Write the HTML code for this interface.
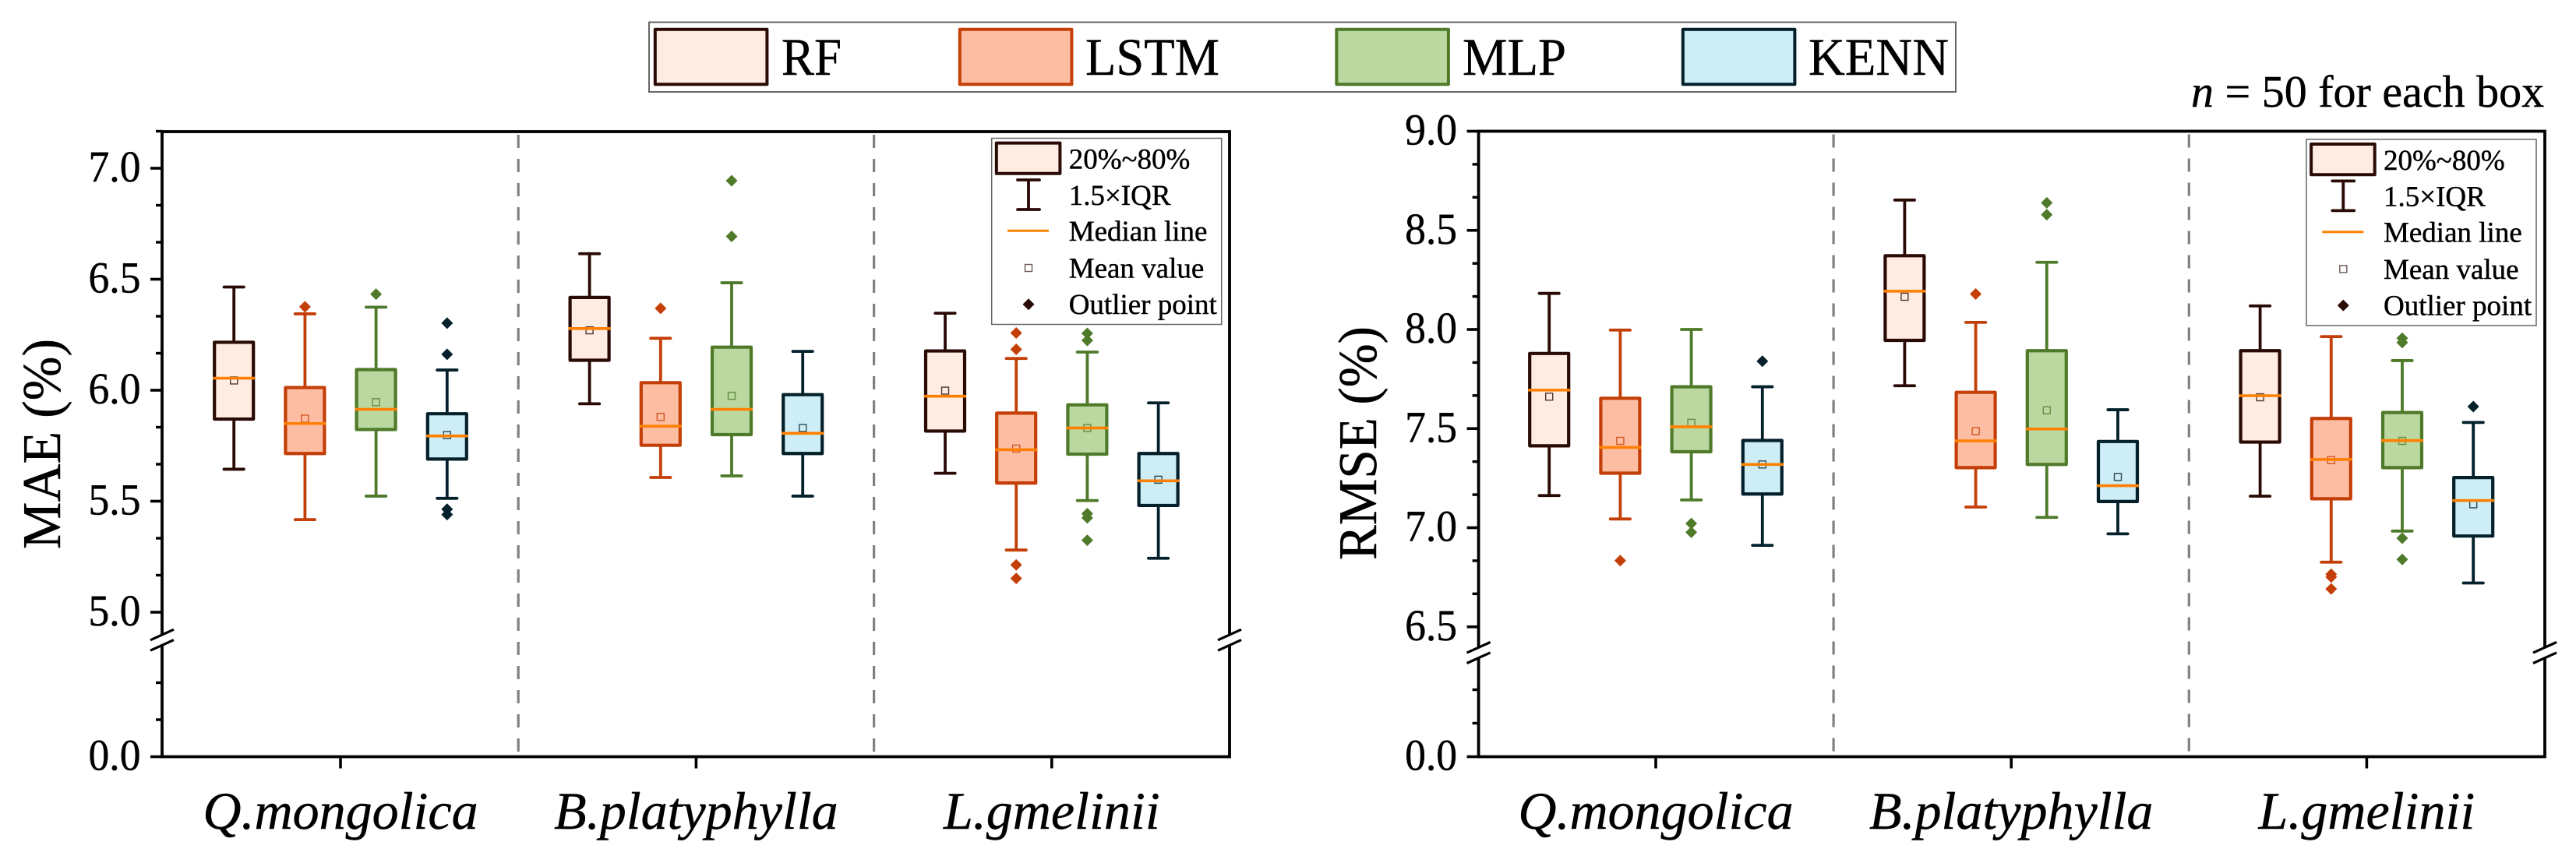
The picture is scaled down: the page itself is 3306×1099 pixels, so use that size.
<!DOCTYPE html>
<html lang="en">
<head>
<meta charset="utf-8">
<title>MAE and RMSE box plots</title>
<style>
html,body{margin:0;padding:0;background:#fff;}
svg{display:block;}
text{font-family:"Liberation Serif",serif;fill:#000;stroke:#000;stroke-width:0.45;text-rendering:geometricPrecision;}
</style>
</head>
<body>
<svg id="chart" xmlns="http://www.w3.org/2000/svg" width="3306" height="1099" viewBox="0 0 3306 1099">
  <rect width="3306" height="1099" fill="#fff"/>

  <g>
    <rect x="833" y="28.5" width="1677" height="89.5" fill="#fff" stroke="#555" stroke-width="1.8"/>
    <rect x="840.8" y="37.8" width="143.6" height="70.4" fill="#feece3" stroke="#2a0a05" stroke-width="4" stroke-linejoin="round"/>
    <text x="1003" y="96" font-size="68" textLength="77" lengthAdjust="spacingAndGlyphs">RF</text>
    <rect x="1231.8" y="37.8" width="143.6" height="70.4" fill="#fdbda2" stroke="#c43f08" stroke-width="4" stroke-linejoin="round"/>
    <text x="1393" y="96" font-size="68" textLength="172" lengthAdjust="spacingAndGlyphs">LSTM</text>
    <rect x="1715.3" y="37.8" width="143.6" height="70.4" fill="#bbd8a0" stroke="#4f7a2a" stroke-width="4" stroke-linejoin="round"/>
    <text x="1877" y="96" font-size="68" textLength="133" lengthAdjust="spacingAndGlyphs">MLP</text>
    <rect x="2159.8" y="37.8" width="143.6" height="70.4" fill="#cdeef6" stroke="#04202a" stroke-width="4" stroke-linejoin="round"/>
    <text x="2321" y="96" font-size="68" textLength="180" lengthAdjust="spacingAndGlyphs">KENN</text>
  </g>

  <text x="2812" y="137" font-size="58"><tspan font-style="italic">n</tspan> = 50 for each box</text>

  <text transform="translate(77,570) rotate(-90)" text-anchor="middle" font-size="70" textLength="270" lengthAdjust="spacingAndGlyphs">MAE (%)</text>
  <text transform="translate(1766,569) rotate(-90)" text-anchor="middle" font-size="70" textLength="300" lengthAdjust="spacingAndGlyphs">RMSE (%)</text>

  <g id="panel-mae"></g>
  <g id="panel-rmse"></g>

  <g>
    <rect x="1272.7" y="177.5" width="295" height="239" fill="#fff" stroke="#666" stroke-width="1.5"/>
    <rect x="1278.8" y="183.6" width="81.6" height="39.2" fill="#feece3" stroke="#2a0a05" stroke-width="4" stroke-linejoin="round"/>
    <text x="1371.7" y="216.7" font-size="37">20%~80%</text>
    <path d="M1306 231H1334M1320 231V269M1306 269H1334" fill="none" stroke="#2a0a05" stroke-width="3.8" stroke-linecap="round"/>
    <text x="1371.7" y="263" font-size="37">1.5×IQR</text>
    <line x1="1293" y1="296.3" x2="1346" y2="296.3" stroke="#ff8000" stroke-width="3"/>
    <text x="1371.7" y="309" font-size="37">Median line</text>
    <rect x="1315.5" y="339.5" width="9" height="9" fill="#fff" stroke="#6d5a55" stroke-width="1.4"/>
    <text x="1371.7" y="356.7" font-size="37">Mean value</text>
    <path d="M1320 383.2L1327.5 390.7L1320 398.2L1312.5 390.7Z" fill="#2a0a05"/>
    <text x="1371.7" y="403" font-size="37">Outlier point</text>
  </g>

  <g transform="translate(1687.3,1.4)">
    <rect x="1272.7" y="177.5" width="295" height="239" fill="#fff" stroke="#666" stroke-width="1.5"/>
    <rect x="1278.8" y="183.6" width="81.6" height="39.2" fill="#feece3" stroke="#2a0a05" stroke-width="4" stroke-linejoin="round"/>
    <text x="1371.7" y="216.7" font-size="37">20%~80%</text>
    <path d="M1306 231H1334M1320 231V269M1306 269H1334" fill="none" stroke="#2a0a05" stroke-width="3.8" stroke-linecap="round"/>
    <text x="1371.7" y="263" font-size="37">1.5×IQR</text>
    <line x1="1293" y1="296.3" x2="1346" y2="296.3" stroke="#ff8000" stroke-width="3"/>
    <text x="1371.7" y="309" font-size="37">Median line</text>
    <rect x="1315.5" y="339.5" width="9" height="9" fill="#fff" stroke="#6d5a55" stroke-width="1.4"/>
    <text x="1371.7" y="356.7" font-size="37">Mean value</text>
    <path d="M1320 383.2L1327.5 390.7L1320 398.2L1312.5 390.7Z" fill="#2a0a05"/>
    <text x="1371.7" y="403" font-size="37">Outlier point</text>
  </g>
</svg>

<script>
const species = ['Q.mongolica', 'B.platyphylla', 'L.gmelinii'];
const models = ['RF', 'LSTM', 'MLP', 'KENN'];
const strokeColors = ['#2a0a05', '#c43f08', '#4f7a2a', '#04202a'];
const fillColors = ['#feece3', '#fdbda2', '#bbd8a0', '#cdeef6'];

// Every array: species 1 (RF, LSTM, MLP, KENN), species 2 (...), species 3 (...)
const maeWhiskerHigh = [6.465, 6.344, 6.374, 6.091,  6.615, 6.234, 6.484, 6.175,  6.347, 6.143, 6.172, 5.943];
const maeQ3 =          [6.216, 6.012, 6.093, 5.894,  6.418, 6.034, 6.194, 5.980,  6.177, 5.897, 5.934, 5.715];
const maeMedian =      [6.054, 5.850, 5.914, 5.794,  6.278, 5.838, 5.914, 5.806,  5.973, 5.732, 5.830, 5.592];
const maeMean =        [6.044, 5.872, 5.946, 5.798,  6.270, 5.880, 5.975, 5.830,  5.998, 5.737, 5.830, 5.597];
const maeQ1 =          [5.870, 5.715, 5.823, 5.690,  6.135, 5.752, 5.800, 5.715,  5.816, 5.582, 5.712, 5.481];
const maeWhiskerLow =  [5.644, 5.417, 5.523, 5.513,  5.939, 5.607, 5.614, 5.523,  5.626, 5.280, 5.503, 5.243];
const maeOutliers = [
  [], [6.376], [6.433], [6.302, 6.162, 5.464, 5.440],
  [], [6.369], [6.944, 6.693], [],
  [], [6.258, 6.184, 5.213, 5.152], [6.256, 6.224, 5.444, 5.425, 5.324], []
];

const rmseWhiskerHigh = [8.182, 7.997, 8.000, 7.711,  8.653, 8.036, 8.339, 7.595,  8.119, 7.964, 7.843, 7.531];
const rmseQ3 =          [7.879, 7.653, 7.711, 7.440,  8.372, 7.683, 7.893, 7.435,  7.893, 7.551, 7.581, 7.253];
const rmseMedian =      [7.694, 7.405, 7.509, 7.319,  8.193, 7.438, 7.498, 7.212,  7.666, 7.344, 7.440, 7.137];
const rmseMean =        [7.661, 7.438, 7.529, 7.319,  8.165, 7.487, 7.592, 7.256,  7.658, 7.341, 7.438, 7.118];
const rmseQ1 =          [7.413, 7.275, 7.383, 7.170,  7.945, 7.303, 7.319, 7.132,  7.432, 7.146, 7.303, 6.958];
const rmseWhiskerLow =  [7.162, 7.044, 7.140, 6.911,  7.716, 7.104, 7.052, 6.969,  7.159, 6.826, 6.983, 6.721];
const rmseOutliers = [
  [], [6.834], [7.021, 6.977], [7.840],
  [], [8.179], [8.639, 8.579], [],
  [], [6.765, 6.751, 6.691], [7.956, 7.934, 6.947, 6.840], [7.611]
];

const maeTickLabels = ['0.0', '5.0', '5.5', '6.0', '6.5', '7.0'];
const rmseTickLabels = ['0.0', '6.5', '7.0', '7.5', '8.0', '8.5', '9.0'];
const maeMinorTicks = [1, 2, 5.1667, 5.3333, 5.6667, 5.8333, 6.1667, 6.3333, 6.6667, 6.8333, 7.1667];
const rmseMinorTicks = [1, 2, 6.6667, 6.8333, 7.1667, 7.3333, 7.6667, 7.8333, 8.1667, 8.3333, 8.6667, 8.8333];

const NS = 'http://www.w3.org/2000/svg';

function yMae(v) {
  return v < 3 ? 971.5 - v * 47.5 : 786 - (v - 5) * 285;
}
function yRmse(v) {
  return v < 3 ? 971.5 - v * 43 : 168.5 + (9 - v) * 254.5;
}
function xMae(g, m) {
  return 437 + 456.4 * g + (m - 1.5) * 91.2;
}
function xRmse(g, m) {
  return 2125 + 456.2 * g + (m - 1.5) * 91.2;
}
function make(parent, tag, attrs) {
  const el = document.createElementNS(NS, tag);
  for (const k in attrs) el.setAttribute(k, attrs[k]);
  parent.appendChild(el);
  return el;
}

function drawPanel(cfg) {
  const root = document.getElementById(cfg.id);
  const y = cfg.y, x = cfg.x;
  const top = cfg.top, bottom = cfg.bottom, left = cfg.left, right = cfg.right;

  // group separators
  for (let g = 1; g < species.length; g++) {
    const sx = (x(g - 1, 3) + x(g, 0)) / 2;
    const sep = make(root, 'line', {x1: sx, x2: sx, y1: top + 4, y2: bottom, stroke: '#808080', 'stroke-width': 3.2, 'stroke-dasharray': '17 14'});
    
    
  }

  // frame
  const frame = make(root, 'rect', {x: left, y: top, width: right - left, height: bottom - top, fill: 'none', stroke: '#000', 'stroke-width': 3.8});
  
  

  // y ticks
  cfg.tickLabels.forEach(function (label) {
    const v = parseFloat(label);
    const ty = y(v);
    const tick = make(root, 'line', {x1: left - 15, x2: left, y1: ty, y2: ty, stroke: '#000', 'stroke-width': 3.6});
    
    
    const txt = make(root, 'text', {x: left - 27.5, y: ty + 17, 'text-anchor': 'end', 'font-size': 57, textLength: 67, lengthAdjust: 'spacingAndGlyphs'});
    txt.textContent = label;
    
    
  });
  cfg.minorTicks.forEach(function (v) {
    const ty = y(v);
    const tick = make(root, 'line', {x1: left - 8, x2: left, y1: ty, y2: ty, stroke: '#000', 'stroke-width': 3.4});
    
    
  });

  // x ticks and category labels
  species.forEach(function (name, g) {
    const tx = (x(g, 1) + x(g, 2)) / 2;
    const tick = make(root, 'line', {x1: tx, x2: tx, y1: bottom, y2: bottom + 15, stroke: '#000', 'stroke-width': 3.6});
    
    
    const txt = make(root, 'text', {x: tx, y: 1064, 'text-anchor': 'middle', 'font-size': 68, 'font-style': 'italic'});
    txt.textContent = name;
    
    
  });

  // axis breaks
  [left, right].forEach(function (bx) {
    const by = cfg.breakY;
    const gap = make(root, 'polygon', {points: (bx - 6) + ',' + (by + 9.5) + ' ' + (bx + 6) + ',' + (by + 4) + ' ' + (bx + 6) + ',' + (by - 9.5) + ' ' + (bx - 6) + ',' + (by - 4), fill: '#fff'});
    
    
    [-6.7, 6.7].forEach(function (off) {
      const mark = make(root, 'line', {x1: bx - 15, y1: by + off + 6.8, x2: bx + 15, y2: by + off - 6.8, stroke: '#000', 'stroke-width': 3.2});
      
      
    });
  });

  // boxes
  species.forEach(function (sp, g) {
    models.forEach(function (model, m) {
      const i = g * models.length + m;
      const cx = x(g, m);
      const col = strokeColors[m];
      const group = make(root, 'g', {});
      
      

      const yHi = y(cfg.high[i]), yLo = y(cfg.low[i]), yQ3 = y(cfg.q3[i]), yQ1 = y(cfg.q1[i]);

      const whisker = make(group, 'path', {
        d: 'M' + (cx - 12.7) + ' ' + yHi + 'H' + (cx + 12.7) + 'M' + cx + ' ' + yHi + 'V' + yLo + 'M' + (cx - 12.7) + ' ' + yLo + 'H' + (cx + 12.7),
        fill: 'none', stroke: col, 'stroke-width': 3.8, 'stroke-linecap': 'round'
      });
      
      

      const box = make(group, 'rect', {x: cx - 25, y: yQ3, width: 50, height: yQ1 - yQ3, fill: fillColors[m], stroke: col, 'stroke-width': 4.2, 'stroke-linejoin': 'round'});
      
      

      const ym = y(cfg.mean[i]);
      const mean = make(group, 'rect', {x: cx - 4.5, y: ym - 4.5, width: 9, height: 9, fill: 'none', stroke: col, 'stroke-width': 1.4, 'stroke-opacity': 0.8});
      
      

      const ymed = y(cfg.median[i]);
      const median = make(group, 'line', {x1: cx - 27, x2: cx + 27, y1: ymed, y2: ymed, stroke: '#ff8000', 'stroke-width': 3.6});
      
      

      cfg.outliers[i].forEach(function (v) {
        const oy = y(v);
        const pt = make(group, 'path', {d: 'M' + cx + ' ' + (oy - 7.5) + 'L' + (cx + 7.5) + ' ' + oy + 'L' + cx + ' ' + (oy + 7.5) + 'L' + (cx - 7.5) + ' ' + oy + 'Z', fill: col});
        
        
      });
    });
  });
}

drawPanel({
  id: 'panel-mae', x: xMae, y: yMae, left: 208, right: 1578, top: 169, bottom: 971.5, breakY: 821.7,
  tickLabels: maeTickLabels, minorTicks: maeMinorTicks,
  high: maeWhiskerHigh, q3: maeQ3, median: maeMedian, mean: maeMean, q1: maeQ1, low: maeWhiskerLow, outliers: maeOutliers
});
drawPanel({
  id: 'panel-rmse', x: xRmse, y: yRmse, left: 1897.6, right: 3266, top: 168.5, bottom: 971.5, breakY: 838,
  tickLabels: rmseTickLabels, minorTicks: rmseMinorTicks,
  high: rmseWhiskerHigh, q3: rmseQ3, median: rmseMedian, mean: rmseMean, q1: rmseQ1, low: rmseWhiskerLow, outliers: rmseOutliers
});
</script>
</body>
</html>
